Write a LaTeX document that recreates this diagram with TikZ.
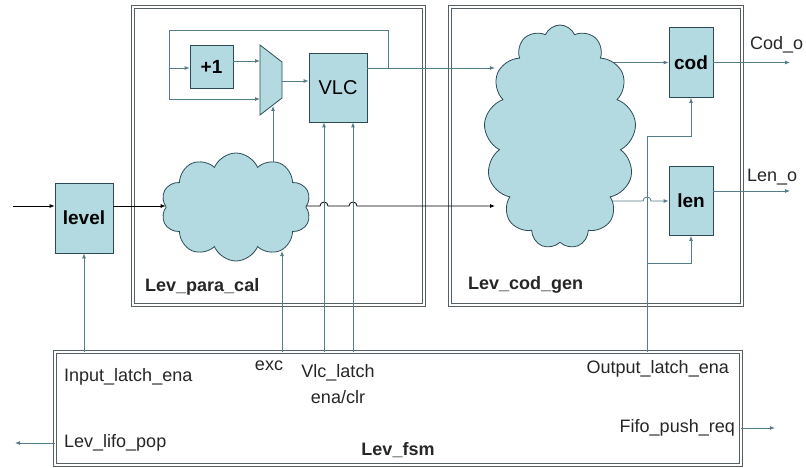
\documentclass[tikz,border=0pt]{standalone}
\usepackage{fontspec}
\setmainfont{Liberation Sans}
\usepackage{tikz}
\usetikzlibrary{shapes.symbols,arrows.meta,backgrounds}
\definecolor{blkfill}{RGB}{178,218,224}
\definecolor{blkline}{RGB}{45,75,85}
\definecolor{wire}{RGB}{85,125,135}
\definecolor{frame}{RGB}{85,95,100}

\begin{document}
\begin{tikzpicture}[x=1pt,y=-1pt,font=\fontsize{18}{21}\selectfont]
\tikzset{blk/.style={draw=blkline,thick,fill=blkfill,inner sep=0pt,align=center,font=\fontsize{19}{21}\selectfont\bfseries},
  blob/.style={cloud,cloud puff arc=135,cloud ignores aspect,draw=blkline,fill=blkfill,thick,inner sep=0pt},
  unit/.style={draw=frame,double=white,double distance=1.5pt,line width=0.9pt,inner sep=0pt},
  arr/.style={-{Latex[length=5pt,width=4pt]}},
  wr/.style={arr,wire,line width=0.8pt},
  dp/.style={arr,black,line width=0.8pt},
  lbl/.style={inner sep=0pt,text=black!85}}
\useasboundingbox (0,0) rectangle (806,468);
% modules
\node[unit,minimum width=291pt,minimum height=298pt] (para) at (278.5,156) {};
\node[unit,minimum width=292pt,minimum height=298pt] (codgen) at (596,156) {};
\node[unit,minimum width=686pt,minimum height=113pt] (fsm) at (398,408.5) {};
\node[lbl,anchor=west,font=\fontsize{18}{21}\selectfont\bfseries] (paralbl) at (145,287) {Lev\_para\_cal};
\node[lbl,anchor=west,font=\fontsize{18}{21}\selectfont\bfseries] (codgenlbl) at (468,285) {Lev\_cod\_gen};
\node[lbl,font=\fontsize{18}{21}\selectfont\bfseries] (fsmlbl) at (398,450) {Lev\_fsm};
% blocks
\node[blk,minimum width=58pt,minimum height=70pt] (level) at (84,218) {level};
\node[blk,minimum width=43pt,minimum height=43pt] (plus) at (211.5,66.5) {+1};
\node[blk,minimum width=58pt,minimum height=69pt,font=\fontsize{20}{22}\selectfont] (vlc) at (338,87.5) {VLC};
\node[blk,minimum width=44pt,minimum height=70pt] (cod) at (691,62.5) {cod};
\node[blk,minimum width=44pt,minimum height=69pt] (len) at (691,201) {len};
\node[blob,cloud puffs=10,minimum width=150pt,minimum height=108pt] (cl1) at (236,207) {};
\node[blob,cloud puffs=13,minimum width=152pt,minimum height=224pt] (cl2) at (560,137) {};
\draw[draw=blkline,thick,fill=blkfill] (260,45) -- (282,62) -- (282,98) -- (260,115) -- cycle;
\coordinate (muxa) at (260,61);
\coordinate (muxb) at (260,99);
\coordinate (muxo) at (282,81);
\coordinate (muxs) at (273,106);
% points
\coordinate (in) at (13,206);
\coordinate (c2a) at (495,206);
\coordinate (c2b) at (495,68);
\coordinate (c1b) at (282,251);
\coordinate (vo) at ([yshift=19.5pt]vlc.east);
\coordinate (vena) at ([xshift=-14pt]vlc.south);
\coordinate (vclr) at ([xshift=15pt]vlc.south);
\coordinate (fb) at (388,30);
\coordinate (fbl) at (169,30);
\coordinate (ol) at (647,136);
\coordinate (ol2) at (647,263);
\coordinate (codo) at (790,62.5);
\coordinate (leno) at (790,191);
\coordinate (lifo) at (15,443);
\coordinate (fifo) at (775,428);
% data path
\draw[dp] (in) -- (in -| level.west);
\draw[dp] (level.east |- in) -- (in -| cl1.west);
\draw[dp] (in -| cl1.east) -- ([xshift=-4pt]in -| vena) arc[start angle=180,end angle=0,radius=4pt]
  -- ([xshift=-4pt]in -| vclr) arc[start angle=180,end angle=0,radius=4pt] -- (c2a);
\draw[wr] (vo) -- (c2b);
\draw[wr] (vo -| fb) -- (fb) -- (fbl) -- (fbl |- muxb) -- (muxb);
\draw[wr] (fbl |- vo) -- (plus.west |- vo);
\draw[wr] (plus.east |- muxa) -- (muxa);
\draw[wr] (muxo) -- (muxo -| vlc.west);
\begin{scope}[on background layer]
\draw[wr] (cl1.center -| muxs) -- (muxs);
\draw[wr] (cl2.center |- cod.west) -- (cod.west);
\draw[wr] (cl2.center |- len.west) -- ([xshift=-4pt]len.west -| ol) arc[start angle=180,end angle=0,radius=4pt] -- (len.west);
\end{scope}
\draw[wr] (cod.east) -- (codo);
\draw[wr] ([yshift=10pt]len.east) -- (leno);
% control
\draw[wr] (level.south |- fsm.north) -- (level.south);
\draw[wr] (c1b |- fsm.north) -- (c1b);
\draw[wr] (vena |- fsm.north) -- (vena);
\draw[wr] (vclr |- fsm.north) -- (vclr);
\draw[wr] (ol |- fsm.north) -- (ol) -- (ol -| cod.south) -- (cod.south);
\draw[wr] (ol2) -- (ol2 -| len.south) -- (len.south);
\draw[wr] (fsm.west |- lifo) -- (lifo);
\draw[wr] (fsm.east |- fifo) -- (fifo);
% signal names
\node[lbl,anchor=west] (codolbl) at (750,45) {Cod\_o};
\node[lbl,anchor=west] (lenolbl) at (747,177) {Len\_o};
\node[lbl,anchor=west] (inlbl) at (64,377) {Input\_latch\_ena};
\node[lbl] (exclbl) at (269,366) {exc};
\node[lbl] (vlclbl) at (338,373) {Vlc\_latch};
\node[lbl] (enalbl) at (338,397) {ena/clr};
\node[lbl,anchor=west] (lifolbl) at (64,443) {Lev\_lifo\_pop};
\node[lbl,anchor=east] (ollbl) at (729,369) {Output\_latch\_ena};
\node[lbl,anchor=east] (fifolbl) at (735,428) {Fifo\_push\_req};
\end{tikzpicture}
\end{document}
